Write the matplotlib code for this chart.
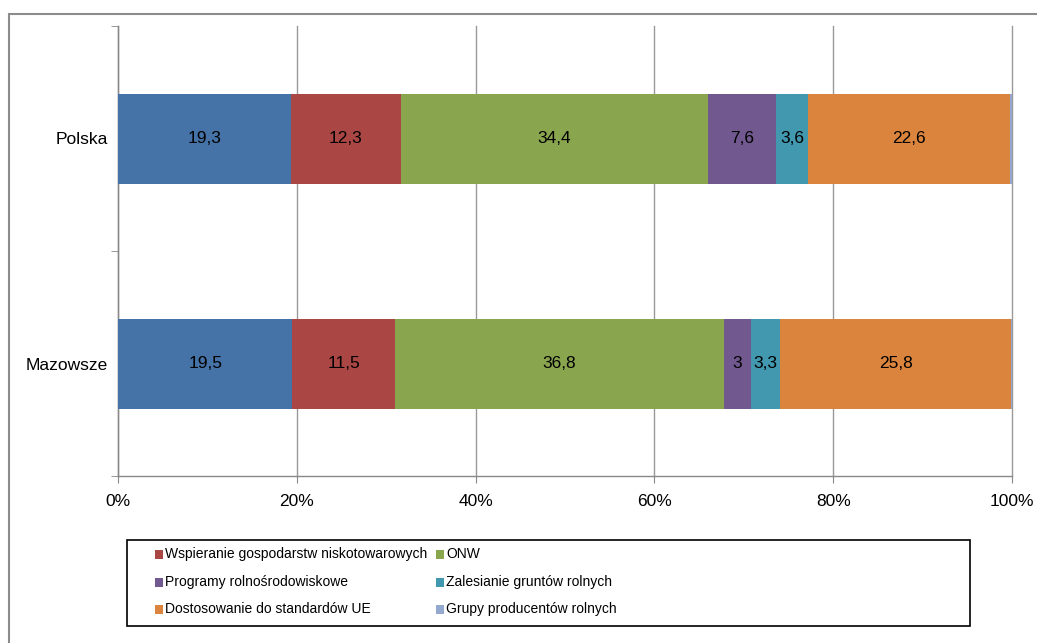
import matplotlib
matplotlib.use("Agg")
import matplotlib.pyplot as plt
import numpy as np
from matplotlib.patches import Rectangle

plt.rcParams['font.family'] = ['Liberation Sans', 'DejaVu Sans']

# dane
regiony = ["Polska", "Mazowsze"]
serie = ["Renty strukturalne",
         "Wspieranie gospodarstw niskotowarowych",
         "ONW",
         "Programy rolnośrodowiskowe",
         "Zalesianie gruntów rolnych",
         "Dostosowanie do standardów UE",
         "Grupy producentów rolnych"]
polska = [19.3, 12.3, 34.4, 7.6, 3.6, 22.6, 0.2]
mazowsze = [19.5, 11.5, 36.8, 3.0, 3.3, 25.8, 0.1]
kolory = ["#4572A7", "#AA4643", "#89A54E", "#71588F", "#4198AF", "#DB843D", "#93A9CF"]
z_etykieta = [True, True, True, True, True, True, False]

W, H = 1037, 643
fig = plt.figure(figsize=(W / 100, H / 100), dpi=100)
ax = fig.add_axes([118 / W, 1 - 476 / H, (1012 - 118) / W, (476 - 26) / H])

dane = np.array([polska, mazowsze])
sumy = dane.sum(axis=1)
proc = dane / sumy[:, None] * 100
y = np.arange(len(regiony))
lewo = np.zeros(len(regiony))
for i, nazwa in enumerate(serie):
    ax.barh(y, proc[:, i], left=lewo, height=0.4, color=kolory[i],
            label=nazwa, zorder=3)
    if z_etykieta[i]:
        for j in range(len(regiony)):
            v = dane[j, i]
            txt = ("%g" % v).replace(".", ",")
            ax.text(lewo[j] + proc[j, i] / 2, y[j], txt, ha="center", va="center",
                    fontsize=12.5, color="black", zorder=4)
    lewo += proc[:, i]

ax.set_xlim(0, 100)
ax.set_ylim(1.5, -0.5)
ax.set_xticks(np.arange(0, 101, 20))
ax.set_xticklabels(["%d%%" % v for v in range(0, 101, 20)], fontsize=12.5)
ax.set_yticks(y)
ax.set_yticklabels(regiony, fontsize=12.5)
ax.set_yticks([-0.5, 0.5, 1.5], minor=True)
ax.tick_params(axis="y", which="major", length=0, pad=7)
ax.tick_params(axis="y", which="minor", length=5, color="#888888", direction="out")
ax.tick_params(axis="x", length=5, color="#888888", direction="out", pad=8)
ax.grid(axis="x", color="#999999", linewidth=1, zorder=0)
for gl in ax.get_xgridlines():
    gl.set_clip_on(False)
for s in ["top", "right"]:
    ax.spines[s].set_visible(False)
for s in ["left", "bottom"]:
    ax.spines[s].set_color("#888888")
    ax.spines[s].set_linewidth(1)

# ramka wykresu
fig.patches.append(Rectangle((9 / W, -0.1), 1.2, 1 - 14 / H + 0.1, transform=fig.transFigure,
                             fill=False, edgecolor="#8c8c8c", linewidth=1.5))

# legenda (bez pierwszej serii)
fig.patches.append(Rectangle((127 / W, 1 - 626 / H), (970 - 127) / W, (626 - 540) / H,
                             transform=fig.transFigure, fill=False, edgecolor="black",
                             linewidth=1.2))
kol_x = [155, 436]
wiersz_y = [554, 582, 609]
for k, i in enumerate(range(1, len(serie))):
    cx = kol_x[k % 2]
    cy = wiersz_y[k // 2]
    fig.patches.append(Rectangle((cx / W, 1 - (cy + 4.5) / H), 8 / W, 9 / H,
                                 transform=fig.transFigure, facecolor=kolory[i],
                                 edgecolor="none"))
    fig.text((cx + 10) / W, 1 - cy / H, serie[i], ha="left", va="center",
             fontsize=10)

fig.savefig("out.png", dpi=100, facecolor="white")
